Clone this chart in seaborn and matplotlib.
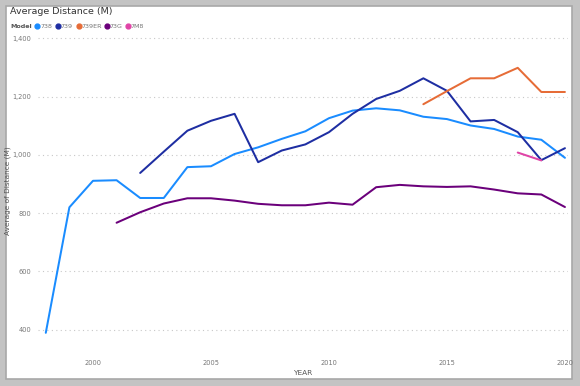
import matplotlib
matplotlib.use('Agg')
import matplotlib.pyplot as plt
from matplotlib.patches import Rectangle
import numpy as np
import pandas as pd
import seaborn as sns

# values
models = ['738', '739', '739ER', '73G', '7M8']
colors = ['#1A8CFF', '#1E2EA2', '#E66C37', '#6B007B', '#E044A7']

years_738 = list(range(1998, 2021))
dist_738 = [389, 820, 911, 913, 852, 852, 958, 961, 1003, 1026, 1055, 1081,
            1126, 1152, 1160, 1153, 1131, 1123, 1101, 1089, 1063, 1052, 990]

years_739 = list(range(2002, 2021))
dist_739 = [938, 1011, 1083, 1117, 1141, 975, 1015, 1036, 1078, 1141, 1192,
            1220, 1263, 1220, 1115, 1120, 1078, 982, 1023]

years_739er = list(range(2014, 2021))
dist_739er = [1174, 1219, 1263, 1263, 1299, 1216, 1216]

years_73g = list(range(2001, 2021))
dist_73g = [767, 803, 833, 851, 851, 843, 832, 827, 827, 836, 829, 889, 897,
            892, 890, 892, 881, 868, 864, 821]

years_7m8 = [2018, 2019]
dist_7m8 = [1008, 981]

y_ticks = [400, 600, 800, 1000, 1200, 1400]
x_ticks = [2000, 2005, 2010, 2015, 2020]

series = [(years_738, dist_738), (years_739, dist_739), (years_739er, dist_739er),
          (years_73g, dist_73g), (years_7m8, dist_7m8)]
frames = []
for name, (yrs, vals) in zip(models, series):
    frames.append(pd.DataFrame({'YEAR': yrs, 'Distance': vals, 'Model': name}))
df = pd.concat(frames, ignore_index=True)

sns.set_style('white')
plt.rcParams['font.family'] = ['DejaVu Sans']

fig = plt.figure(figsize=(5.8, 3.86), dpi=100, facecolor='#c3c3c3')
# white card with a darker edge, like the report visual
fig.patches.append(Rectangle((6 / 580, 7 / 386), 566 / 580, 373 / 386,
                             transform=fig.transFigure, facecolor='white',
                             edgecolor='#a8a8a8', linewidth=1.2, zorder=-10))

ax = fig.add_axes([38 / 580, 36 / 386, 530 / 580, 318 / 386])
ax.set_facecolor('none')
sns.lineplot(data=df, x='YEAR', y='Distance', hue='Model', hue_order=models,
             palette=dict(zip(models, colors)), linewidth=1.45, legend=False,
             estimator=None, ax=ax)

ax.set_xlim(1997.67, 2020.13)
ax.set_ylim(330, 1422)
ax.set_yticks(y_ticks)
ax.set_yticklabels(['{:,}'.format(v) for v in y_ticks])
ax.set_xticks(x_ticks)
for s in ax.spines.values():
    s.set_visible(False)
ax.grid(axis='y', linestyle=(0, (1, 3)), color='#c8c8c8', linewidth=0.8)
ax.set_axisbelow(True)
ax.tick_params(axis='both', length=0, labelsize=4.8, labelcolor='#777777')
ax.tick_params(axis='y', pad=5)
ax.tick_params(axis='x', pad=7)
ax.set_xlabel('YEAR', fontsize=5.3, color='#555555', labelpad=3)
ax.set_ylabel('Average of Distance (M)', fontsize=5.3, color='#555555', labelpad=1)

# title and legend row
fig.text(10 / 580, 1 - 11.5 / 386, 'Average Distance (M)', fontsize=6.8,
         color='#333333', va='center', ha='left')
ly = 1 - 26 / 386
fig.text(10 / 580, ly, 'Model', fontsize=4.6, fontweight='bold',
         color='#555555', va='center', ha='left')
dot_x = [37, 57.7, 78.7, 106.7, 127.7]
for name, c, dx in zip(models, colors, dot_x):
    fig.add_artist(plt.Line2D([dx / 580], [ly], marker='o', markersize=3.5,
                              color=c, transform=fig.transFigure))
    fig.text((dx + 3) / 580, ly, name, fontsize=4.6, color='#777777',
             va='center', ha='left')

plt.savefig('out.png', dpi=100, facecolor=fig.get_facecolor())
